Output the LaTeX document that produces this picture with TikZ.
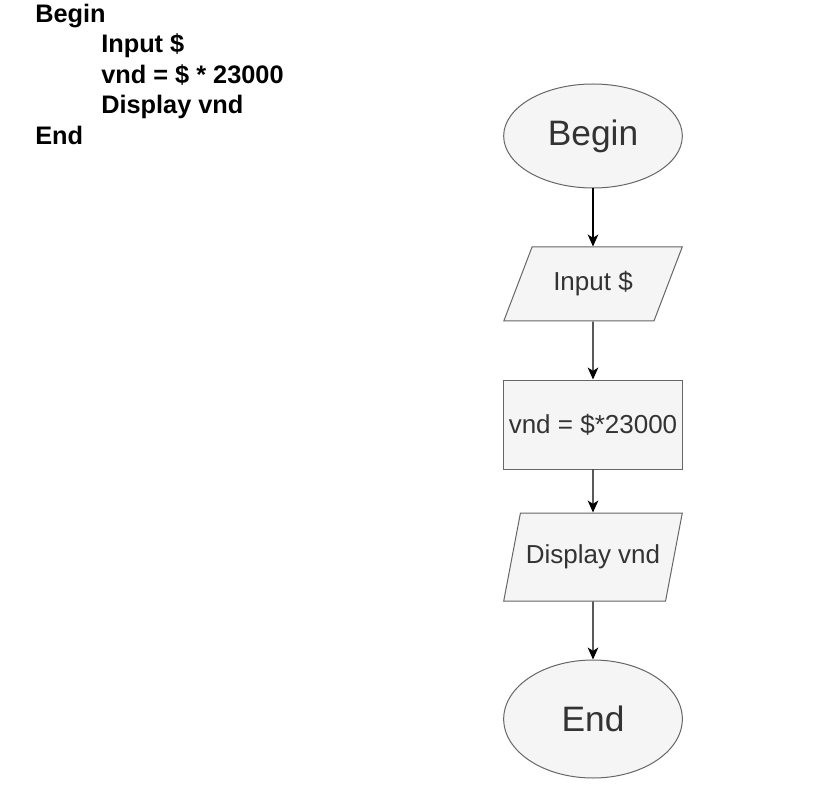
\documentclass[tikz,border=0pt]{standalone}
\usepackage{fontspec}
\setmainfont{Liberation Sans}
\usetikzlibrary{shapes.geometric}
\usetikzlibrary{arrows.meta}
\tikzset{>={Stealth[length=9pt,width=8pt,inset=2.5pt]}}
\definecolor{boxfill}{HTML}{F5F5F5}
\definecolor{boxline}{HTML}{666666}
\definecolor{boxtext}{HTML}{333333}
\tikzset{shp/.style={draw=boxline,fill=boxfill,text=boxtext,line width=0.75pt}}
\tikzset{term/.style={shp,ellipse,minimum width=134pt,font=\fontsize{26.5}{30}\selectfont}}
\tikzset{io/.style={shp,trapezium,trapezium left angle=69,trapezium right angle=111,trapezium stretches=true,minimum width=134pt,inner xsep=-9pt,font=\fontsize{19.5}{23}\selectfont}}
\tikzset{proc/.style={shp,rectangle,minimum width=134pt,minimum height=66.75pt,inner xsep=0pt,font=\fontsize{19.5}{23}\selectfont}}
\tikzset{code/.style={anchor=base west,inner sep=0pt,font=\bfseries\fontsize{19}{23}\selectfont}}
\tikzset{flow/.style={->,line width=0.9pt}}

\begin{document}
\begin{tikzpicture}[x=0.75pt,y=-0.75pt]
                    \useasboundingbox (0,0) rectangle (817,798);

                    % pseudocode
                    \node[code] (cBegin) at (35,22.5) {Begin};
                    \node[code] (cInput) at (101,53) {Input \$};
                    \node[code] (cCalc) at (101,83.5) {vnd = \$ * 23000};
                    \node[code] (cShow) at (101,113.5) {Display vnd};
                    \node[code] (cEnd) at (35,144.5) {End};

                    % flowchart
                    \node[term,minimum height=78pt] (begin) at (593,136) {Begin};
                    \node[io,minimum height=55.5pt] (input) at (593,284) {Input \$};
                    \node[proc] (calc) at (593,424.5) {vnd = \$*23000};
                    \node[io,minimum height=66pt] (show) at (593,557) {Display vnd};
                    \node[term,minimum height=88.5pt] (end) at (593,719) {End};

                    \draw[flow] (begin) -- (input);
                    \draw[flow] (input) -- (calc);
                    \draw[flow] (calc) -- (show);
                    \draw[flow] (show) -- (end);

                \end{tikzpicture}
\end{document}
